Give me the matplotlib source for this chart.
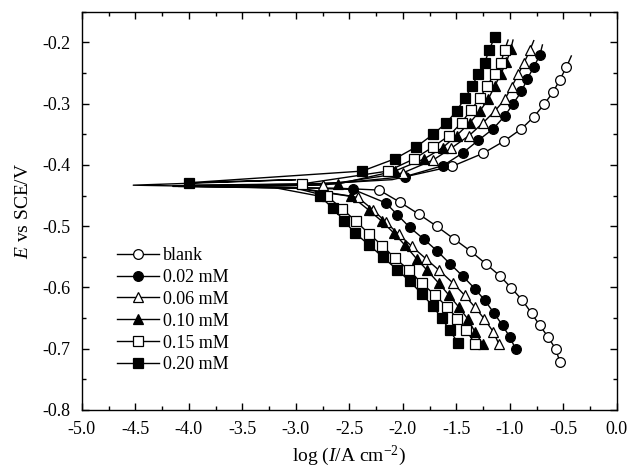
import matplotlib
matplotlib.use("Agg")
import matplotlib.pyplot as plt
from matplotlib.lines import Line2D
from matplotlib.ticker import MultipleLocator

plt.rcParams['font.family'] = ['Liberation Serif', 'DejaVu Serif']
plt.rcParams['mathtext.fontset'] = 'custom'
plt.rcParams['mathtext.rm'] = 'Liberation Serif'
plt.rcParams['mathtext.it'] = 'Liberation Serif:italic'

labels = ['blank', '0.02 mM', '0.06 mM', '0.10 mM', '0.15 mM', '0.20 mM']

# ---- anodic branch markers (E / V, log I) ----
blank_an_E = [-0.402, -0.381, -0.361, -0.341, -0.321, -0.301, -0.281, -0.261, -0.240]
blank_an_I = [-1.536, -1.250, -1.053, -0.891, -0.773, -0.680, -0.595, -0.533, -0.470]
c002_an_E = [-0.419, -0.401, -0.380, -0.360, -0.341, -0.320, -0.300, -0.280, -0.260, -0.240, -0.221]
c002_an_I = [-1.980, -1.623, -1.437, -1.296, -1.156, -1.047, -0.969, -0.891, -0.838, -0.776, -0.720]
c006_an_E = [-0.433, -0.413, -0.392, -0.373, -0.352, -0.332, -0.312, -0.293, -0.273, -0.252, -0.233, -0.213]
c006_an_I = [-2.745, -2.000, -1.717, -1.551, -1.380, -1.255, -1.140, -1.047, -0.984, -0.922, -0.866, -0.813]
c010_an_E = [-0.431, -0.410, -0.390, -0.372, -0.352, -0.331, -0.312, -0.293, -0.271, -0.251, -0.232, -0.211]
c010_an_I = [-2.605, -2.075, -1.800, -1.629, -1.498, -1.374, -1.280, -1.203, -1.140, -1.084, -1.031, -0.991]
c015_an_E = [-0.431, -0.410, -0.390, -0.371, -0.352, -0.331, -0.311, -0.291, -0.271, -0.251, -0.233, -0.212]
c015_an_I = [-2.946, -2.140, -1.894, -1.722, -1.567, -1.451, -1.367, -1.280, -1.214, -1.140, -1.084, -1.047]
c020_an_E = [-0.429, -0.410, -0.390, -0.371, -0.350, -0.331, -0.312, -0.291, -0.271, -0.251, -0.233, -0.212, -0.191]
c020_an_I = [-4.000, -2.380, -2.075, -1.879, -1.717, -1.592, -1.498, -1.421, -1.350, -1.296, -1.234, -1.193, -1.140]

# ---- cathodic branch markers ----
blank_ca_E = [-0.441, -0.461, -0.480, -0.500, -0.521, -0.541, -0.561, -0.581, -0.601, -0.621, -0.642, -0.662, -0.681, -0.701, -0.721]
blank_ca_I = [-2.221, -2.025, -1.853, -1.684, -1.520, -1.364, -1.227, -1.093, -0.985, -0.882, -0.797, -0.720, -0.642, -0.570, -0.533]
c002_ca_E = [-0.440, -0.462, -0.481, -0.502, -0.521, -0.541, -0.561, -0.582, -0.602, -0.621, -0.642, -0.662, -0.681, -0.701]
c002_ca_I = [-2.464, -2.159, -2.053, -1.935, -1.804, -1.676, -1.561, -1.437, -1.327, -1.234, -1.147, -1.068, -1.000, -0.944]
c006_ca_E = [-0.453, -0.473, -0.493, -0.513, -0.533, -0.553, -0.572, -0.593, -0.613, -0.632, -0.651, -0.672, -0.693]
c006_ca_I = [-2.420, -2.280, -2.160, -2.040, -1.915, -1.785, -1.661, -1.530, -1.421, -1.327, -1.240, -1.156, -1.100]
c010_ca_E = [-0.451, -0.474, -0.492, -0.511, -0.531, -0.553, -0.572, -0.593, -0.613, -0.632, -0.651, -0.672, -0.693]
c010_ca_I = [-2.480, -2.316, -2.195, -2.085, -1.980, -1.872, -1.773, -1.664, -1.567, -1.477, -1.395, -1.327, -1.250]
c015_ca_E = [-0.451, -0.472, -0.492, -0.512, -0.532, -0.552, -0.572, -0.593, -0.612, -0.632, -0.651, -0.670, -0.692]
c015_ca_I = [-2.707, -2.565, -2.436, -2.320, -2.190, -2.075, -1.940, -1.825, -1.700, -1.586, -1.489, -1.405, -1.327]
c020_ca_E = [-0.451, -0.471, -0.491, -0.511, -0.531, -0.551, -0.571, -0.590, -0.610, -0.630, -0.650, -0.670, -0.691]
c020_ca_I = [-2.776, -2.651, -2.550, -2.449, -2.312, -2.184, -2.053, -1.935, -1.825, -1.722, -1.638, -1.561, -1.483]

# ---- line-only vertices (tip at E_corr, knees, upper ends) ----
tip_E = [-0.434, -0.435, -0.435, -0.433, -0.434, -0.433]
tip_I = [-3.95, -4.15, -4.10, -4.00, -4.15, -4.52]
an_knee_E = [[-0.431, -0.424], [-0.432, -0.428], [-0.434], [-0.432], [-0.432], [-0.424]]
an_knee_I = [[-2.80, -2.10], [-3.00, -2.50], [-3.30], [-3.20], [-3.50], [-3.00]]
ca_knee_E = [[-0.437, -0.438], [-0.437], [-0.438], [-0.437], [-0.438], [-0.437]]
ca_knee_I = [[-3.00, -2.60], [-3.00], [-3.00], [-3.00], [-3.00], [-3.20]]
end_E = [-0.222, -0.204, -0.197, -0.196, -0.196, -0.191]
end_I = [-0.425, -0.695, -0.776, -0.970, -1.016, -1.140]

an_E = [blank_an_E, c002_an_E, c006_an_E, c010_an_E, c015_an_E, c020_an_E]
an_I = [blank_an_I, c002_an_I, c006_an_I, c010_an_I, c015_an_I, c020_an_I]
ca_E = [blank_ca_E, c002_ca_E, c006_ca_E, c010_ca_E, c015_ca_E, c020_ca_E]
ca_I = [blank_ca_I, c002_ca_I, c006_ca_I, c010_ca_I, c015_ca_I, c020_ca_I]

markers = ['o', 'o', '^', '^', 's', 's']
faces = ['white', 'black', 'white', 'black', 'white', 'black']
msizes = [7, 7, 7.5, 7.5, 6.5, 6.5]

fig = plt.figure(figsize=(6.3, 4.75), dpi=100)
ax = fig.add_axes([0.130, 0.137, 0.849, 0.838])

handles = []
for k in range(6):
    # path: cathodic end -> tip -> anodic end
    pe = list(reversed(ca_E[k])) + list(reversed(ca_knee_E[k])) + [tip_E[k]] + an_knee_E[k] + an_E[k] + [end_E[k]]
    pi = list(reversed(ca_I[k])) + list(reversed(ca_knee_I[k])) + [tip_I[k]] + an_knee_I[k] + an_I[k] + [end_I[k]]
    ax.plot(pi, pe, '-', color='black', lw=1.0, zorder=2)
    ax.plot(an_I[k] + ca_I[k], an_E[k] + ca_E[k], linestyle='none', marker=markers[k],
            ms=msizes[k], mfc=faces[k], mec='black', mew=0.9, zorder=3 + k * 0.1)
    handles.append(Line2D([0], [0], color='black', lw=1.0, marker=markers[k], ms=msizes[k],
                          mfc=faces[k], mec='black', mew=0.9))

ax.set_xlim(-5.0, 0.0)
ax.set_ylim(-0.8, -0.15)
ax.xaxis.set_minor_locator(MultipleLocator(0.25))
ax.yaxis.set_minor_locator(MultipleLocator(0.05))
ax.set_xticks([-5.0, -4.5, -4.0, -3.5, -3.0, -2.5, -2.0, -1.5, -1.0, -0.5, 0.0])
ax.set_xticklabels(['-5.0', '-4.5', '-4.0', '-3.5', '-3.0', '-2.5', '-2.0', '-1.5', '-1.0', '-0.5', '0.0'])
ax.set_yticks([-0.8, -0.7, -0.6, -0.5, -0.4, -0.3, -0.2])
ax.set_yticklabels(['-0.8', '-0.7', '-0.6', '-0.5', '-0.4', '-0.3', '-0.2'])
ax.tick_params(which='both', direction='in', top=True, right=True, labelsize=13, width=1.0)
ax.tick_params(which='major', length=5)
ax.tick_params(axis='x', which='major', pad=8)
ax.tick_params(axis='y', which='major', pad=8)
ax.tick_params(which='minor', length=3)
for s in ax.spines.values():
    s.set_linewidth(1.0)

ax.set_xlabel(r'log ($\mathit{I}$/A cm$^{-2}$)', fontsize=14, labelpad=4)
ax.set_ylabel(r'$\mathit{E}$ vs SCE/V', fontsize=14, labelpad=8)

fig.legend(handles, labels, loc='upper left', bbox_to_anchor=(0.186, 0.480),
           bbox_transform=fig.transFigure, frameon=False, fontsize=13,
           handlelength=2.3, handletextpad=0.25, labelspacing=0.27, borderpad=0,
           borderaxespad=0)

fig.savefig('out.png', dpi=100)
